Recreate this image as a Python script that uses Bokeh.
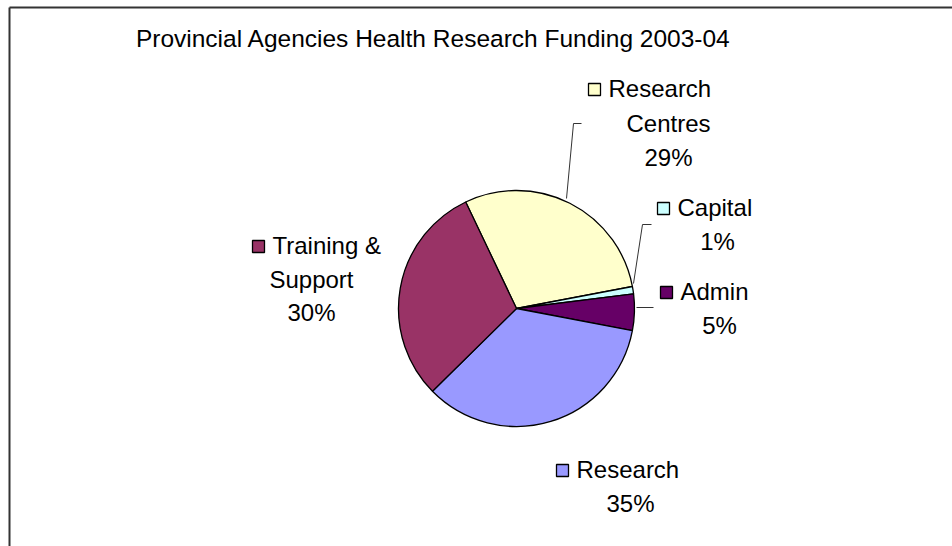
import math
from bokeh.plotting import figure
from bokeh.models import Range1d
from bokeh.core.properties import value
from bokeh.embed import file_html
from bokeh.resources import INLINE

# ---- data ----
title = "Provincial Agencies Health Research Funding 2003-04"
categories = ["Research Centres", "Capital", "Admin", "Research", "Training & Support"]
shares = [29.1, 1.0, 5.0, 34.6, 30.3]
colors = ["#FFFFCC", "#CCFFFF", "#660066", "#9999FF", "#993366"]
pct_labels = [f"{round(s)}%" for s in shares]

# ---- layout ----
W, H = 952, 546


def X(sx):
    return sx


def Y(sy):
    return H - sy


FONT = value("Liberation Sans")
FS = "24px"

p = figure(width=W, height=H, output_backend="svg", toolbar_location=None,
           x_range=Range1d(0, W), y_range=Range1d(0, H), min_border=0)
p.axis.visible = False
p.grid.visible = False
p.outline_line_color = None
p.background_fill_color = "white"
p.border_fill_color = "white"

# frame (left and top edges visible)
p.segment(x0=[X(9), X(9)], y0=[Y(7), Y(7)], x1=[X(9), X(952)], y1=[Y(546), Y(7)],
          line_color="#333333", line_width=2)

# pie
cx, cy, r = 516, 308, 118
start_cw = 334.5  # clockwise from 12 o'clock
total = sum(shares)
starts, ends = [], []
acc = start_cw
for s in shares:
    a0 = acc
    a1 = acc + s / total * 360.0
    starts.append(math.radians(90 - a0))
    ends.append(math.radians(90 - a1))
    acc = a1
p.wedge(x=[X(cx)] * len(shares), y=[Y(cy)] * len(shares), radius=r,
        start_angle=starts, end_angle=ends, direction="clock",
        fill_color=colors, line_color="black", line_width=1.3)

# title
p.text(x=[X(433)], y=[Y(38)], text=[title], text_font=FONT, text_font_size="24.5px",
       text_align="center", text_baseline="middle", text_color="black")

label_lines = {
    "Research Centres": ["Research", "Centres"],
    "Capital": ["Capital"],
    "Admin": ["Admin"],
    "Research": ["Research"],
    "Training & Support": ["Training &", "Support"],
}
# key x, first line y, centre x of following lines, line spacing
label_pos = {
    "Research Centres": (594, 88, 668, 34.5),
    "Capital": (663, 207, 717, 33.5),
    "Admin": (666, 291, 719, 34),
    "Research": (562, 469, 630, 34),
    "Training & Support": (258, 245, 311, 33.5),
}
for cat, col, pct in zip(categories, colors, pct_labels):
    kx, ky, ccx, sp = label_pos[cat]
    lines = label_lines[cat] + [pct]
    p.rect(x=[X(kx)], y=[Y(ky + 1)], width=12, height=12, fill_color=col,
           line_color="black", line_width=1.3)
    p.text(x=[X(kx + 14)], y=[Y(ky)], text=[lines[0]], text_font=FONT,
           text_font_size=FS, text_align="left", text_baseline="middle",
           text_color="black")
    for i, ln in enumerate(lines[1:], start=1):
        p.text(x=[X(ccx)], y=[Y(ky + i * sp)], text=[ln], text_font=FONT,
               text_font_size=FS, text_align="center", text_baseline="middle",
               text_color="black")

# leader lines
p.multi_line(xs=[[X(581), X(573), X(566)], [X(651), X(642), X(633)], [X(653), X(636)]],
             ys=[[Y(123), Y(123), Y(198)], [Y(224), Y(224), Y(283)], [Y(307), Y(307)]],
             line_color="#333333", line_width=1)

open("out.html", "w").write(file_html(p, INLINE))
